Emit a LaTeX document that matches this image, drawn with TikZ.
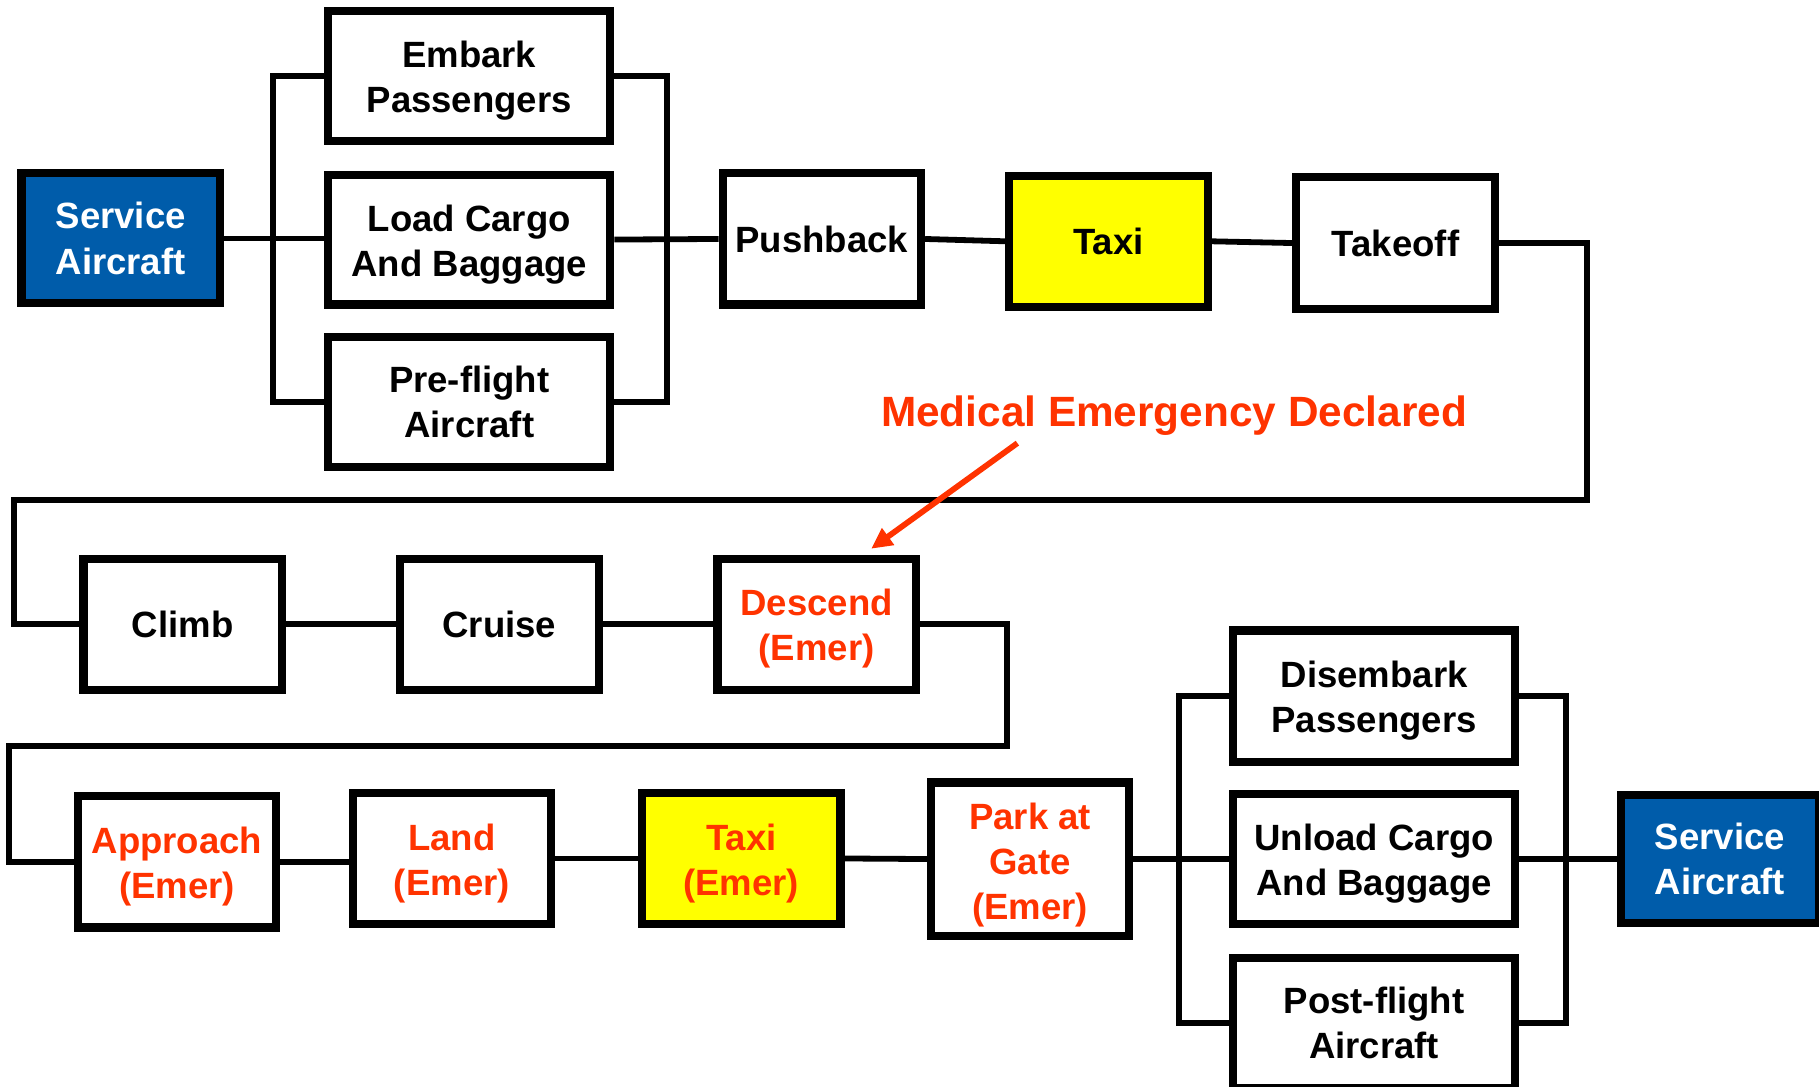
\documentclass[tikz,border=0pt]{standalone}
\usepackage{fontspec}
\setmainfont{Liberation Sans}
\usetikzlibrary{arrows.meta}
\definecolor{svcblue}{RGB}{0,92,170}
\definecolor{emred}{RGB}{255,51,0}
\definecolor{hiyel}{RGB}{255,255,0}
\newcommand\tsp{\rule{0pt}{31pt}}
\newcommand\tspp{\rule{0pt}{33pt}}
\begin{document}
\begin{tikzpicture}[x=1pt,y=-1pt,
  box/.style={draw=black, line width=7pt, fill=white, align=center,
    font=\fontsize{31.5}{39}\selectfont\bfseries, inner sep=0pt},
  wide/.style={minimum width=243pt, minimum height=112pt},
  std/.style={minimum width=171pt, minimum height=113pt},
  svc/.style={fill=svcblue, text=white},
  emer/.style={text=emred},
  hl/.style={fill=hiyel},
  conn/.style={draw=black, line width=5pt},
  callout/.style={draw=emred, line width=5pt, -{Triangle[length=18pt,width=17pt]}}]
\useasboundingbox (0,0) rectangle (1568,937);

% row 1
\node[box, std, svc, minimum height=112pt] (svcL) at (104,205.5) {Service\\Aircraft};
\node[box, wide] (embark) at (404.5,65.5) {\tsp Embark\\Passengers};
\node[box, wide] (load) at (404.5,206.5) {\tsp Load Cargo\\And Baggage};
\node[box, wide] (pre) at (404.5,346.5) {Pre-flight\\Aircraft};
\node[box, std] (push) at (708.5,206) {Pushback};
\node[box, std, hl] (taxi) at (955.5,208) {Taxi};
\node[box, std, minimum height=114pt] (takeoff) at (1203,209.5) {Takeoff};

% row 2
\node[box, std] (climb) at (157.5,538) {Climb};
\node[box, std] (cruise) at (430.5,538) {Cruise};
\node[box, std, emer] (descend) at (704,538) {\tsp Descend\\(Emer)};

% row 3
\node[box, std, emer] (approach) at (152.5,743) {\tsp Approach\\(Emer)};
\node[box, std, emer] (land) at (389.5,740) {\tsp Land\\(Emer)};
\node[box, std, hl, emer] (taxiE) at (639,740) {\tsp Taxi\\(Emer)};
\node[box, std, emer, minimum height=132pt] (park) at (888,740.5) {\tspp Park at\\Gate\\(Emer)};
\node[box, wide, minimum height=113pt] (disembark) at (1184.5,600) {\tsp Disembark\\Passengers};
\node[box, wide, minimum height=112pt] (unload) at (1184.5,740.5) {\tsp Unload Cargo\\And Baggage};
\node[box, wide] (post) at (1184.5,881.5) {Post-flight\\Aircraft};
\node[box, std, svc, minimum height=111pt] (svcR) at (1482.5,740.5) {Service\\Aircraft};

% callout
\node[font=\fontsize{36.5}{44}\selectfont\bfseries, text=emred, inner sep=0pt] (med) at (1012,358) {Medical Emergency Declared};

% helper coordinates
\coordinate (b1) at (235,0);
\coordinate (b2) at (575,0);
\coordinate (r1) at (1368,431);
\coordinate (r2) at (12,431);
\coordinate (r3) at (868,643);
\coordinate (r4) at (8,643);
\coordinate (b3) at (1016,0);
\coordinate (b4) at (1350,0);
\coordinate (m1) at (877,382);
\coordinate (m2) at (751,473);

% connectors
\draw[conn] (svcL.east) -- (svcL.east -| load.west);
\draw[conn] (embark.west) -| (b1 |- pre.west) -- (pre.west);
\draw[conn] (embark.east) -| (b2 |- pre.east) -- (pre.east);
\draw[conn] (load.east) -- (push.west);
\draw[conn] (push.east) -- (taxi.west);
\draw[conn] (taxi.east) -- (takeoff.west);
\draw[conn] (takeoff.east) -| (r1) -- (r2) |- (climb.west);
\draw[conn] (climb.east) -- (cruise.west);
\draw[conn] (cruise.east) -- (descend.west);
\draw[conn] (descend.east) -| (r3) -- (r4) |- (approach.west);
\draw[conn] (approach.east) -- (approach.east -| land.west);
\draw[conn] (land.east) -- (taxiE.west);
\draw[conn] (taxiE.east) -- (park.west);
\draw[conn] (park.east) -- (park.east -| unload.west);
\draw[conn] (disembark.west) -| (b3 |- post.west) -- (post.west);
\draw[conn] (disembark.east) -| (b4 |- post.east) -- (post.east);
\draw[conn] (unload.east) -- (svcR.west);
\draw[callout] (m1) -- (m2);
\end{tikzpicture}
\end{document}
